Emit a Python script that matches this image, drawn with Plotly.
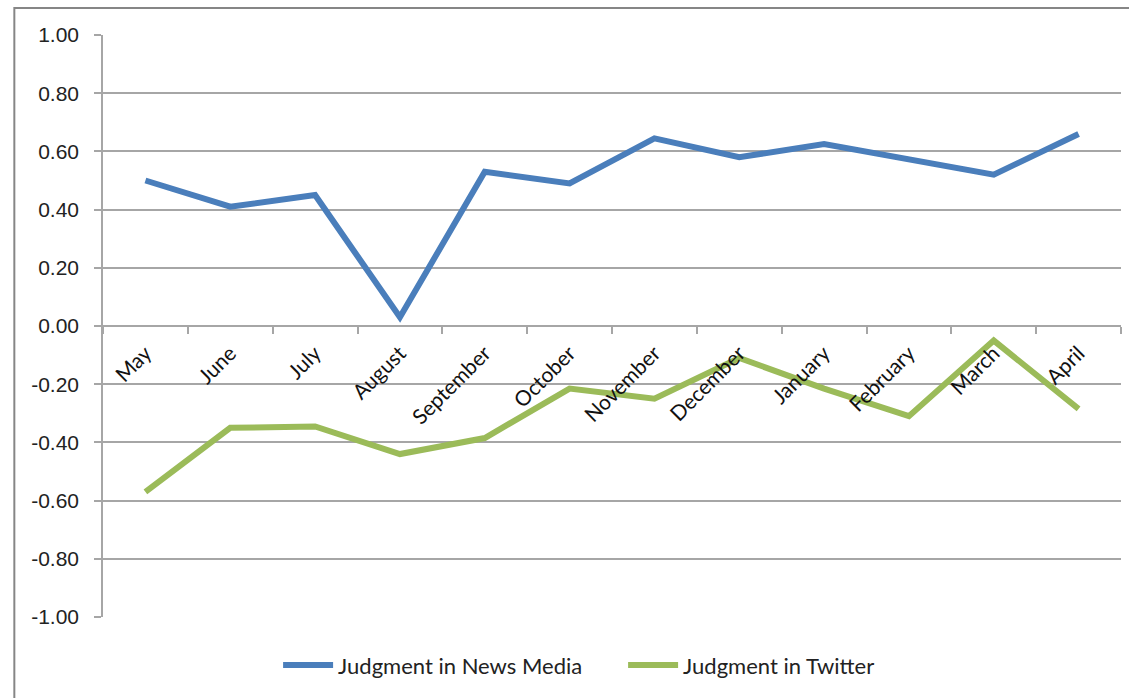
import plotly.graph_objects as go

months = ["May", "June", "July", "August", "September", "October", "November",
          "December", "January", "February", "March", "April"]
news_media = [0.50, 0.41, 0.45, 0.03, 0.53, 0.49, 0.645, 0.58, 0.625, 0.57, 0.52, 0.66]
twitter = [-0.57, -0.35, -0.345, -0.44, -0.385, -0.215, -0.25, -0.11, -0.215, -0.31, -0.05, -0.285]
y_ticks = [-1.0, -0.8, -0.6, -0.4, -0.2, 0.0, 0.2, 0.4, 0.6, 0.8, 1.0]
y_tick_labels = ["-1.00", "-0.80", "-0.60", "-0.40", "-0.20", "0.00", "0.20", "0.40", "0.60", "0.80", "1.00"]

BLUE = "#4A7EBB"
GREEN = "#9BBB59"
GRID = "#A6A6A6"
FONT = "Lato, 'Open Sans', sans-serif"

fig = go.Figure()
fig.add_trace(go.Scatter(x=months, y=news_media, mode="lines", name="Judgment in News Media",
                         line=dict(color=BLUE, width=6)))
fig.add_trace(go.Scatter(x=months, y=twitter, mode="lines", name="Judgment in Twitter",
                         line=dict(color=GREEN, width=6)))

fig.update_layout(
    width=1129, height=698,
    margin=dict(l=103, r=8, t=35, b=81),
    paper_bgcolor="white", plot_bgcolor="white",
    showlegend=True,
    legend=dict(orientation="h", x=0.172, xanchor="left", y=-0.083, yanchor="middle",
                font=dict(family=FONT, size=22, color="#222222"), itemwidth=50,
                entrywidth=280, entrywidthmode="pixels",
                traceorder="normal"),
    xaxis=dict(
        type="category", anchor="free", position=0.5,
        showline=True, linecolor=GRID, linewidth=1.5,
        ticks="outside", ticklen=7, tickcolor=GRID, tickwidth=1.5,
        tickson="boundaries", tickangle=-45,
        tickfont=dict(family=FONT, size=21, color="#111111"),
        showgrid=False, zeroline=False,
        ticklabelstandoff=6,
        range=[-0.5, 11.5],
    ),
    yaxis=dict(
        range=[-1, 1], tickvals=y_ticks, ticktext=y_tick_labels,
        showline=True, linecolor=GRID, linewidth=1.5,
        ticks="outside", ticklen=7, tickcolor=GRID, tickwidth=1.5,
        showgrid=True, gridcolor=GRID, gridwidth=1.5,
        zeroline=False,
        tickfont=dict(family="Liberation Sans, Arial, sans-serif", size=21, color="#222222"),
        ticklabelstandoff=11,
    ),
    shapes=[
        dict(type="rect", xref="paper", yref="paper",
             x0=-0.0871, x1=1.02, y0=-0.16, y1=1.0464,
             line=dict(color="#868686", width=2), fillcolor="rgba(0,0,0,0)", layer="below"),
    ],
)

fig.write_html("out.html")
